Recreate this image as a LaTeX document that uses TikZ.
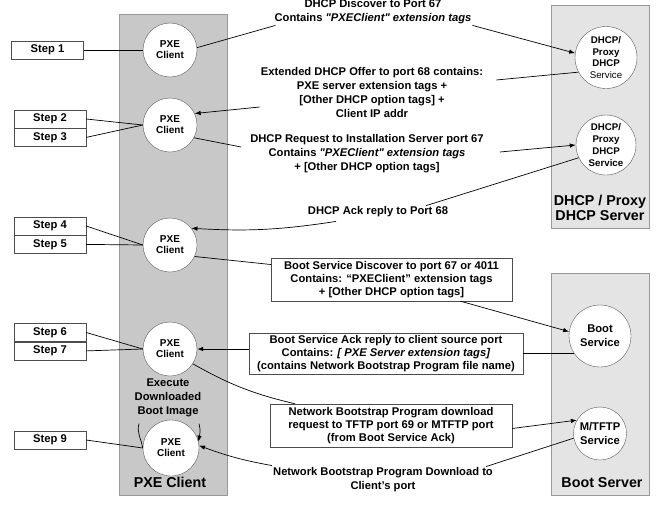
\documentclass[tikz,border=0pt]{standalone}
\usepackage{fontspec}
\setmainfont{Liberation Sans}
\usetikzlibrary{positioning}
\usetikzlibrary{arrows.meta}

\begin{document}
\begin{tikzpicture}[x=1pt,y=1pt,
 every node/.style={font=\bfseries\fontsize{11.2}{14}\selectfont,align=center},
 client/.style={circle,draw=gray!70!black,fill=white,minimum size=54pt,inner sep=0pt,font=\bfseries\fontsize{10}{11}\selectfont},
 server/.style={circle,draw=gray!70!black,fill=white,minimum size=62pt,inner sep=0pt,font=\bfseries\fontsize{9.7}{11.7}\selectfont},
 stepbox/.style={draw=gray!60!black,fill=white,minimum width=72pt,minimum height=18pt,inner sep=0pt},
 msgbox/.style={draw=gray!60!black,fill=white,inner sep=0pt,font=\bfseries\fontsize{11.2}{13}\selectfont},
 msg/.style={inner sep=1pt},
 title/.style={font=\bfseries\fontsize{14.3}{15}\selectfont},
 panel/.style={draw=gray!80,line width=0.8pt},
 link/.style={line width=0.7pt},
 arr/.style={link,-{Latex[length=6pt,width=4.5pt]}}]
 \useasboundingbox (0,0) rectangle (667,-512);
 \draw[panel,fill=gray!43] (119,-14) rectangle (227,-495);
 \draw[panel,fill=gray!21] (551,-5) rectangle (649,-228);
 \draw[panel,fill=gray!21] (551,-273) rectangle (649,-495);

 \node[client] (pxe1) at (170,-50) {PXE\\Client};
 \node[client] (pxe2) at (170,-125) {PXE\\Client};
 \node[client] (pxe3) at (170,-245) {PXE\\Client};
 \node[client] (pxe4) at (170,-349) {PXE\\Client};
 \node[client,minimum size=56pt] (pxe5) at (171,-448) {PXE\\Client};
 \node (execute) at (168,-398) {Execute\\Downloaded\\Boot Image};

 \node[title] (tclient) at (170,-482) {PXE Client};
 \node[title] (tdhcp) at (600,-207.5) {DHCP / Proxy\\DHCP Server};
 \node[title] (tboot) at (602,-483) {Boot Server};

 \node[server] (dhcp1) at (606,-57.5) {DHCP/\\Proxy\\DHCP\\{\mdseries Service}};
 \node[server,minimum size=60pt] (dhcp2) at (606,-145) {DHCP/\\Proxy\\DHCP\\Service};
 \node[server,font=\bfseries\fontsize{11.2}{14}\selectfont] (boot) at (600,-336) {Boot\\Service};
 \node[server,minimum size=53pt,font=\bfseries\fontsize{11.2}{14}\selectfont] (tftp) at (600,-433.5) {M/TFTP\\Service};

 \node[stepbox] (step1) at (47.5,-50) {Step 1};
 \node[stepbox] (step2) at (50,-119) {Step 2};
 \node[stepbox,below=0pt of step2] (step3) {Step 3};
 \node[stepbox] (step4) at (50,-226) {Step 4};
 \node[stepbox,below=0pt of step4] (step5) {Step 5};
 \node[stepbox] (step6) at (50,-332.5) {Step 6};
 \node[stepbox,below=0pt of step6] (step7) {Step 7};
 \node[stepbox] (step9) at (50,-440) {Step 9};

 \draw[link] (step1.east) -- (pxe1.west);
 \draw[link] (step2.east) -- (pxe2.west);
 \draw[link] (step3.east) -- (pxe2.west);
 \draw[link] (step4.east) -- (pxe3.west);
 \draw[link] (step5.east) -- (pxe3.west);
 \draw[link] (step6.east) -- (pxe4.west);
 \draw[link] (step7.east) -- (pxe4.west);
 \draw[link] (step9.east) -- (pxe5.west);

 \node[msg] (discover) at (373,-12) {DHCP Discover to Port 67\\Contains \textit{\textquotedbl PXEClient\textquotedbl\ extension tags}};
 \node[msg] (offer) at (372,-92) {Extended DHCP Offer to port 68 contains:\\PXE server extension tags +\\{}[Other DHCP option tags] +\\Client IP addr};
 \node[msg] (request) at (367,-154) {DHCP Request to Installation Server port 67\\Contains \textit{\textquotedbl PXEClient\textquotedbl\ extension tags}\\+ [Other DHCP option tags]};
 \node[msg] (ack) at (378,-212) {DHCP Ack reply to Port 68};
 \node[msgbox,minimum width=241pt,minimum height=43pt] (bootdisc) at (391.5,-279.5) {Boot Service Discover to port 67 or 4011\\Contains: “PXEClient” extension tags\\+ [Other DHCP option tags]};
 \node[msgbox,minimum width=274pt,minimum height=41pt] (bootack) at (386,-353.5) {Boot Service Ack reply to client source port\\Contains: \textit{[ PXE Server extension tags]}\\(contains Network Bootstrap Program file name)};
 \node[msgbox,minimum width=242pt,minimum height=43pt] (nbpreq) at (391,-425.5) {Network Bootstrap Program download\\request to TFTP port 69 or MTFTP port\\(from Boot Service Ack)};
 \node[msg] (nbpdl) at (383,-480) {Network Bootstrap Program Download to\\Client's port};

 \draw[link] (pxe1.5) -- ([xshift=2pt]discover.south west);
 \draw[arr] (discover.south east) -- (dhcp1.172);
 \draw[link] (dhcp1.208) -- ([xshift=12pt,yshift=12pt]offer.east);
 \draw[arr] ([yshift=-15pt]offer.west) -- (pxe2.25);
 \draw[link] (pxe2.-28) -- ([xshift=-8pt,yshift=7pt]request.west);
 \draw[arr] ([xshift=15pt,yshift=2pt]request.east) -- (dhcp2.west);
 \draw[link] (dhcp2.205) -- ([xshift=-23pt]ack.north east);
 \draw[arr] ([xshift=-42pt,yshift=-3pt]ack.south) to[bend left=6] (pxe3.38);
 \draw[link] (pxe3.-25) -- ([yshift=15pt]bootdisc.west);
 \draw[arr] ([xshift=69pt]bootdisc.south) -- (boot.172);
 \draw[link] (boot.214) -- (bootack.east);
 \draw[arr] ([yshift=4.5pt]bootack.west) -- (pxe4.east);
 \draw[link] (pxe4.-33) to[bend right=8] ([xshift=-96pt]nbpreq.north);
 \draw[arr] ([yshift=-3pt]nbpreq.east) -- (tftp.150);
 \draw[link] (tftp.190) -- ([xshift=-8pt]nbpdl.north east);
 \draw[arr] ([yshift=1pt]nbpdl.north west) to[bend left=5] (pxe5.5);
 \draw[link] ([xshift=-29pt,yshift=-3pt]execute.south) to[out=-105,in=100] (pxe5.west);
 \draw[arr] ([xshift=31pt,yshift=-3pt]execute.south) to[out=-75,in=80] (pxe5.13);
\end{tikzpicture}
\end{document}
